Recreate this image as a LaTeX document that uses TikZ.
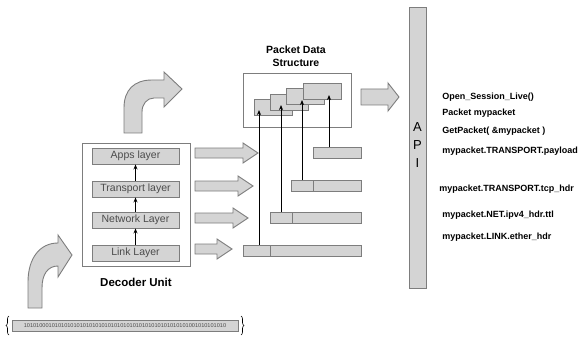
\documentclass[tikz,border=0pt]{standalone}
\usepackage{fontspec}
\setmainfont{Liberation Sans}
\usetikzlibrary{arrows.meta,decorations.pathreplacing}
\definecolor{boxgray}{RGB}{212,212,212}
\definecolor{edgegray}{RGB}{125,125,125}
\definecolor{txtgray}{RGB}{75,75,75}
\tikzset{
  layer/.style={draw=edgegray,fill=boxgray,minimum width=87,minimum height=16,
    inner sep=0,text=txtgray,font=\fontsize{10.5}{12}\selectfont},
  blockarrow/.style={draw=edgegray,fill=boxgray,line width=0.9pt},
  bar/.style={draw=edgegray,fill=boxgray,minimum height=11,inner sep=0,anchor=west},
  pkt/.style={draw=edgegray,fill=boxgray,minimum width=38,minimum height=16,
    inner sep=0,anchor=north west},
  apitxt/.style={anchor=west,inner sep=0,font=\bfseries\fontsize{9}{10}\selectfont}
}

\begin{document}
\begin{tikzpicture}[x=1pt,y=-1pt,line width=0.9pt,>={Stealth[length=5pt,width=4pt]}]
  \useasboundingbox (0,0) rectangle (579,337);

  % decoder unit
  \node[draw=edgegray,minimum width=108,minimum height=123,inner sep=0] (decoder) at (136,204.5) {};
  \node[layer] (apps) at (135.5,156) {Apps layer};
  \node[layer] (trans) at (135.5,189) {Transport layer};
  \node[layer] (net) at (135.5,220) {Network Layer};
  \node[layer] (link) at (135.5,253) {Link Layer};
  \draw[->,line width=1.1pt] (link) -- (net);
  \draw[->,line width=1.1pt] (net) -- (trans);
  \draw[->,line width=1.1pt] (trans) -- (apps);
  \node[font=\bfseries\fontsize{11.5}{13}\selectfont] (declabel) at (136,282) {Decoder Unit};

  % curved arrows
  \draw[blockarrow] (124,133) -- (124,108) .. controls (124,90) and (134,80) .. (152,80)
    -- (164,80) -- (164,72) -- (182,89) -- (164,107) -- (164,98) -- (154,98)
    .. controls (147,98) and (142,104) .. (142,112) -- (142,133) -- cycle;
  \draw[blockarrow] (28,308) -- (28,282) .. controls (28,258) and (40,243) .. (58,243)
    -- (58,235) -- (72,255) -- (58,277) -- (58,266)
    .. controls (48,266) and (42,274) .. (42,288) -- (42,308) -- cycle;

  % layer arrows
  \foreach \yc/\xt in {153/258,186/253,218/248,249/232}
    \draw[blockarrow] (195,\yc-5) -- (\xt-15,\yc-5) -- (\xt-15,\yc-10) -- (\xt,\yc)
      -- (\xt-15,\yc+10) -- (\xt-15,\yc+5) -- (195,\yc+5) -- cycle;

  % headers and data
  \node[bar,minimum width=48] (payload) at (313,152.5) {};
  \node[bar,minimum width=22] (tcphdr) at (291,186) {};
  \node[bar,minimum width=48] (tcpdata) at (313,186) {};
  \node[bar,minimum width=22] (iphdr) at (270,218) {};
  \node[bar,minimum width=69] (ipdata) at (292,218) {};
  \node[bar,minimum width=27] (ethhdr) at (243,250.5) {};
  \node[bar,minimum width=91] (ethdata) at (270,250.5) {};

  % packet data structure
  \node[font=\bfseries\fontsize{10.5}{13}\selectfont,align=center] (pdstitle) at (296,56.5) {Packet Data\\Structure};
  \node[draw=edgegray,minimum width=108,minimum height=54,inner sep=0,anchor=north west] (pds) at (243,73) {};
  \foreach \i/\px/\py in {1/254/99,2/270/94,3/286/88.5,4/303/83}
    \node[pkt] (pk\i) at (\px,\py) {};
  \coordinate (tip1) at (259,110);
  \coordinate (tip2) at (281,105);
  \coordinate (tip3) at (302,100);
  \coordinate (tip4) at (329,95);
  \draw[->] (tip1 |- ethhdr.north) -- (tip1);
  \draw[->] (tip2 |- iphdr.north) -- (tip2);
  \draw[->] (tip3 |- tcphdr.north) -- (tip3);
  \draw[->] (tip4 |- payload.north) -- (tip4);

  % api
  \draw[blockarrow] (361,89) -- (388,89) -- (388,83) -- (399,97) -- (388,111) -- (388,105) -- (361,105) -- cycle;
  \node[draw=edgegray,fill=boxgray,minimum width=17,minimum height=281,inner sep=0,anchor=north west] (api) at (409,7) {};
  \foreach \ly/\ch in {127/A,145/P,163/I}
    \node[font=\fontsize{13}{14}\selectfont,inner sep=0] at (417.5,\ly) {\ch};

  \node[apitxt] (call1) at (442,97) {Open\_Session\_Live()};
  \node[apitxt] (call2) at (442,113) {Packet mypacket};
  \node[apitxt] (call3) at (442,131) {GetPacket( \&mypacket )};
  \node[apitxt] (call4) at (442,151) {mypacket.TRANSPORT.payload};
  \node[apitxt] (call5) at (439,189) {mypacket.TRANSPORT.tcp\_hdr};
  \node[apitxt] (call6) at (442,215) {mypacket.NET.ipv4\_hdr.ttl};
  \node[apitxt] (call7) at (442,237) {mypacket.LINK.ether\_hdr};

  % bit stream
  \node[draw=edgegray,fill=boxgray,minimum width=226,minimum height=11,inner sep=0,
    text=txtgray,font=\fontsize{5.6}{6}\selectfont] (bits) at (125,325.5)
    {10101000101010101010101010101010101010101010101010101001010101010};
  \draw[decorate,decoration={brace,amplitude=3pt},line width=0.6pt] (9,335) -- (9,316);
  \draw[decorate,decoration={brace,amplitude=3pt},line width=0.6pt] (241,316) -- (241,335);
\end{tikzpicture}
\end{document}
